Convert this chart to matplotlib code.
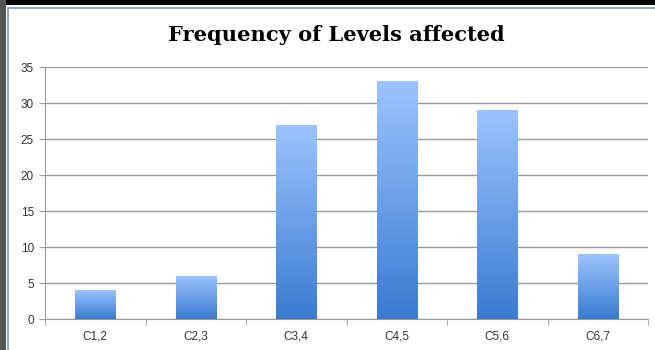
# Grafico de barras: frecuencia de niveles afectados
import numpy as np
import matplotlib.pyplot as plt
import matplotlib.patches as patches

# Datos
categorias = ['C1,2', 'C2,3', 'C3,4', 'C4,5', 'C5,6', 'C6,7']
frecuencia = [4, 6, 27, 33, 29, 9]
yticks = [0, 5, 10, 15, 20, 25, 30, 35]

fig = plt.figure(figsize=(6.55, 3.5), dpi=100)

# Marco exterior
fig.patches.append(patches.Rectangle((0, 1 - 5 / 350), 1, 5 / 350, transform=fig.transFigure,
                                     facecolor='black', edgecolor='none', zorder=-5))
fig.patches.append(patches.Rectangle((0, 0), 6 / 655, 1, transform=fig.transFigure,
                                     facecolor='#555555', edgecolor='none', zorder=-5))
fig.patches.append(patches.Rectangle((8 / 655, -0.01), 1, 1 - 8 / 350 + 0.01, transform=fig.transFigure,
                                     facecolor='white', edgecolor='#7f95b5', linewidth=1.2, zorder=-4))

ax = fig.add_axes([45 / 655, 31 / 350, 603 / 655, 252 / 350])
ax.set_facecolor('none')

x = np.arange(len(categorias))
barras = ax.bar(x, frecuencia, width=0.4, color='none', edgecolor='none', zorder=3)

# Degradado azul en cada barra
grad = np.linspace(0, 1, 256).reshape(-1, 1)
cmap = plt.matplotlib.colors.LinearSegmentedColormap.from_list('azul', ['#3a7bd0', '#9cc3ff'])
for b in barras:
    x0, y0 = b.get_x(), b.get_y()
    w, h = b.get_width(), b.get_height()
    im = ax.imshow(grad, extent=[x0, x0 + w, y0, y0 + h], origin='lower',
                   cmap=cmap, aspect='auto', zorder=3)
    im.set_clip_path(b)

ax.set_xlim(-0.5, len(categorias) - 0.5)
ax.set_ylim(0, 35)
ax.set_yticks(yticks)
ax.set_yticklabels([str(v) for v in yticks], fontsize=8.5, family='Liberation Sans', color='#333333')
ax.set_xticks(x)
ax.set_xticklabels(categorias, fontsize=8.5, family='Liberation Sans', color='#333333')
ax.set_xticks(np.arange(-0.5, len(categorias), 1), minor=True)
ax.tick_params(axis='x', which='major', length=0, pad=8)
ax.tick_params(axis='x', which='minor', length=4, color='#999999')
ax.tick_params(axis='y', length=4, color='#999999', pad=4)

ax.grid(axis='y', color='#999999', linewidth=1, zorder=0)
for s in ['top', 'right']:
    ax.spines[s].set_visible(False)
ax.spines['left'].set_color('#999999')
ax.spines['bottom'].set_color('#999999')

fig.text(0.513, 0.9, 'Frequency of Levels affected', ha='center', va='center',
         fontsize=15.1, fontweight='bold', family='DejaVu Serif')

plt.savefig('out.png', dpi=100)
